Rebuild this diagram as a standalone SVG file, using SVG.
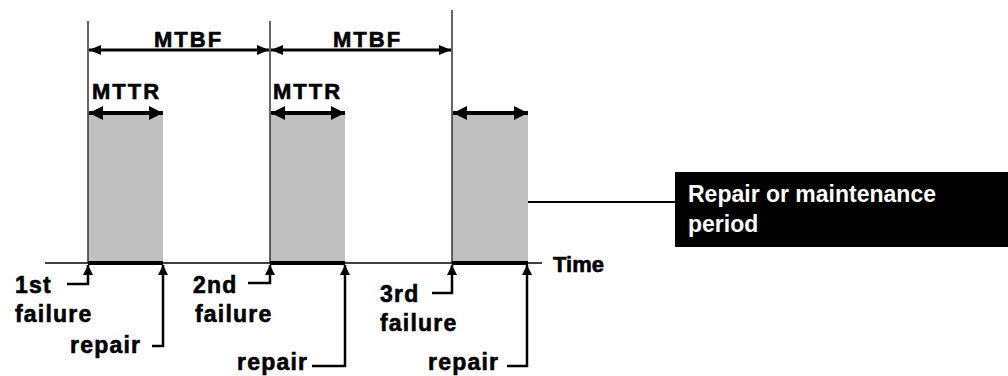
<svg xmlns="http://www.w3.org/2000/svg" width="1008" height="376" viewBox="0 0 1008 376">
<style>
text{font-family:"Liberation Sans",Arial,sans-serif;font-weight:bold;fill:#000;stroke:#000;stroke-width:0.6}
.lbl{font-size:23px;letter-spacing:1.2px}
.hd{font-size:22px;letter-spacing:2px}
.box text{fill:#fff;stroke:none;font-size:23px}
.vl{stroke:#333;stroke-width:1.5;fill:none}
.gray{fill:#c0c0c0}
.axis{stroke:#000;stroke-width:1.5}
.thick{stroke:#000;stroke-width:4}
.ptr{stroke:#000;stroke-width:2.5;fill:none;marker-end:url(#ah)}
.mtbf{stroke:#000;stroke-width:3;marker-start:url(#am);marker-end:url(#am)}
.mttr{stroke:#000;stroke-width:4;marker-start:url(#at);marker-end:url(#at)}
</style>
<defs>
<marker id="ah" markerUnits="userSpaceOnUse" markerWidth="10" markerHeight="10" refX="10" refY="5" orient="auto-start-reverse"><path d="M0,0L10,5L0,10z" fill="#000"/></marker>
<marker id="am" markerUnits="userSpaceOnUse" markerWidth="12" markerHeight="10" refX="12" refY="5" orient="auto-start-reverse"><path d="M0,0L12,5L0,10z" fill="#000"/></marker>
<marker id="at" markerUnits="userSpaceOnUse" markerWidth="14" markerHeight="14" refX="14" refY="7" orient="auto-start-reverse"><path d="M0,0L14,7L0,14z" fill="#000"/></marker>
</defs>
<g id="periods">
<rect class="gray" x="88" y="112" width="75" height="151"/>
<rect class="gray" x="270" y="112" width="75" height="151"/>
<rect class="gray" x="452" y="112" width="76" height="151"/>
</g>
<g id="markers">
<line class="vl" x1="88" y1="21" x2="88" y2="263"/>
<line class="vl" x1="270" y1="21" x2="270" y2="263"/>
<line class="vl" x1="452" y1="10" x2="452" y2="263"/>
</g>
<g id="timeline">
<line class="axis" x1="45" y1="263" x2="542" y2="263"/>
<line class="thick" x1="88" y1="263" x2="163" y2="263"/>
<line class="thick" x1="270" y1="263" x2="345" y2="263"/>
<line class="thick" x1="452" y1="263" x2="528" y2="263"/>
<text x="553" y="272" style="font-size:22px">Time</text>
</g>
<g id="connectors">
<line class="mtbf" x1="89" y1="50" x2="269" y2="50"/>
<line class="mtbf" x1="271" y1="50" x2="451" y2="50"/>
<line class="mttr" x1="89" y1="113" x2="163" y2="113"/>
<line class="mttr" x1="271" y1="113" x2="345" y2="113"/>
<line class="mttr" x1="453" y1="113" x2="528" y2="113"/>
<polyline class="ptr" points="67,284 88,284 88,265"/>
<polyline class="ptr" points="152,346 163,346 163,265"/>
<polyline class="ptr" points="248,283 270,283 270,265"/>
<polyline class="ptr" points="312,366 345,366 345,265"/>
<polyline class="ptr" points="432,293 452,293 452,265"/>
<polyline class="ptr" points="507,366 527,366 527,265"/>
<line x1="528" y1="202" x2="675" y2="202" stroke="#000" stroke-width="2"/>
</g>
<g id="labels-mtbf">
<text class="hd" x="154" y="47">MTBF</text>
<text class="hd" x="333" y="47">MTBF</text>
</g>
<g id="labels-mttr">
<text class="hd" x="92" y="99">MTTR</text>
<text class="hd" x="273" y="99">MTTR</text>
</g>
<g id="failure1">
<text class="lbl" x="15" y="293">1st</text>
<text class="lbl" x="15" y="322">failure</text>
</g>
<g id="repair1"><text class="lbl" x="70" y="353">repair</text></g>
<g id="failure2">
<text class="lbl" x="193" y="293">2nd</text>
<text class="lbl" x="195" y="322">failure</text>
</g>
<g id="repair2"><text class="lbl" x="237" y="370">repair</text></g>
<g id="failure3">
<text class="lbl" x="380" y="302">3rd</text>
<text class="lbl" x="380" y="331">failure</text>
</g>
<g id="repair3"><text class="lbl" x="428" y="370">repair</text></g>
<g id="legend" class="box">
<rect x="675" y="172" width="340" height="75" fill="#000"/>
<text x="688" y="202">Repair or maintenance</text>
<text x="688" y="232">period</text>
</g>
</svg>
